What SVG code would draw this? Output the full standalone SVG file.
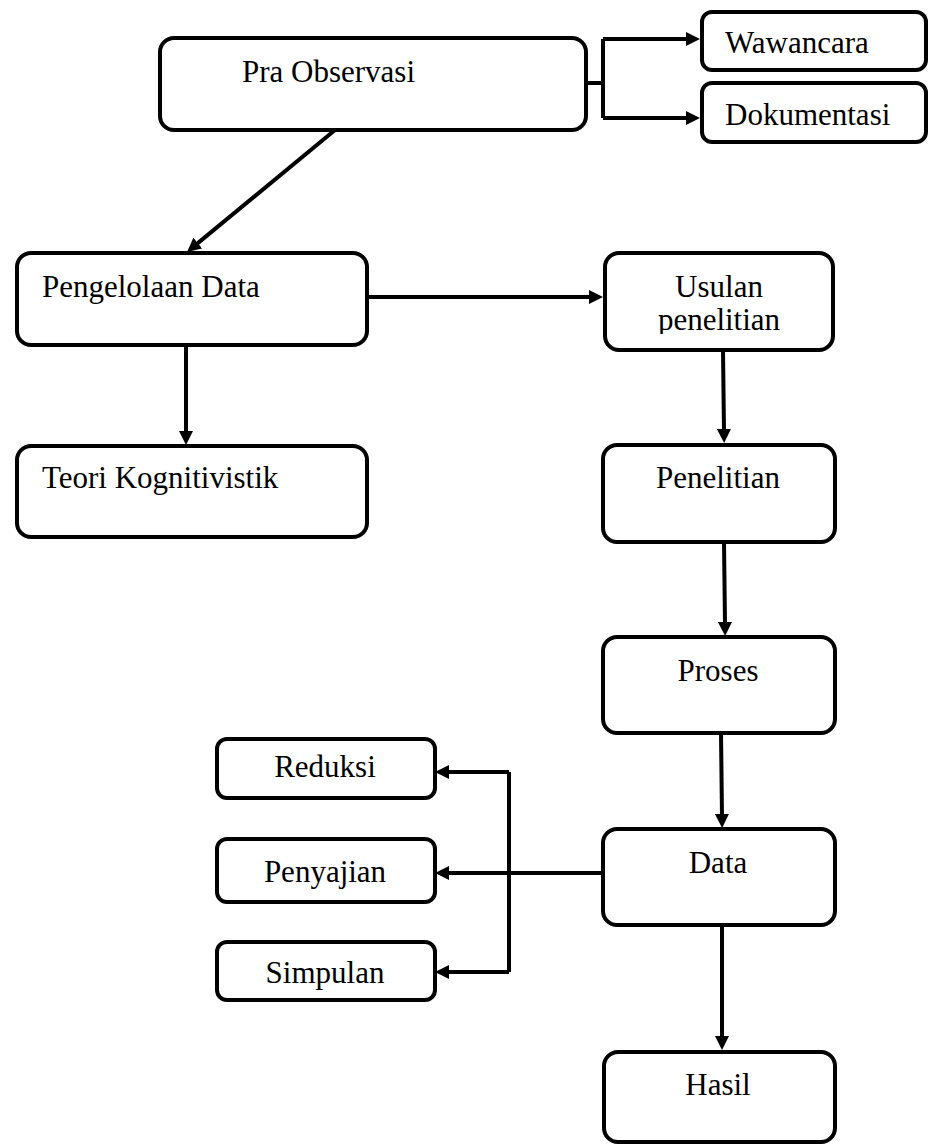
<svg xmlns="http://www.w3.org/2000/svg" width="928" height="1146" viewBox="0 0 928 1146">
<style>
.box{fill:#fff;stroke:#000;stroke-width:4}
.lbl{font-family:"Liberation Serif","Times New Roman",serif;font-size:31px;fill:#000}
.mid{text-anchor:middle}
.con{fill:none;stroke:#000;stroke-width:4}
.arr{fill:none;stroke:#000;stroke-width:4;marker-end:url(#ah)}
</style>
<defs>
<marker id="ah" viewBox="0 0 14 14" markerWidth="14" markerHeight="14" markerUnits="userSpaceOnUse" refX="2" refY="7" orient="auto">
<path d="M0,0 L14,7 L0,14 z" fill="#000"/>
</marker>
<clipPath id="clipUsulan"><rect x="605" y="253" width="228" height="81"/></clipPath>
</defs>
<rect width="928" height="1146" fill="#fff"/>
<g id="connectors">
<path class="con" d="M586,83 H603 M603,39 V118"/>
<path class="arr" d="M603,39 H688"/>
<path class="arr" d="M603,118 H688"/>
<path class="arr" d="M335,130 L196.3,244.4"/>
<path class="arr" d="M367,297 H591"/>
<path class="arr" d="M186,345 V433"/>
<path class="arr" d="M723,350 L724,431"/>
<path class="arr" d="M724,542 L725,624"/>
<path class="arr" d="M721,733 L722,816"/>
<path class="arr" d="M722,925 V1038"/>
<path class="arr" d="M603,873 H447"/>
<path class="con" d="M509,772 V972"/>
<path class="arr" d="M509,772 H447"/>
<path class="arr" d="M509,972 H447"/>
</g>
<g id="pra-observasi"><rect class="box" x="160" y="38" width="426" height="92" rx="14"/><text class="lbl" x="242" y="82">Pra Observasi</text></g>
<g id="wawancara"><rect class="box" x="702" y="12" width="224" height="58" rx="10"/><text class="lbl" x="725" y="53">Wawancara</text></g>
<g id="dokumentasi"><rect class="box" x="702" y="83" width="224" height="59" rx="10"/><text class="lbl" x="725" y="125">Dokumentasi</text></g>
<g id="pengelolaan-data"><rect class="box" x="17" y="253" width="350" height="92" rx="14"/><text class="lbl" x="42" y="297">Pengelolaan Data</text></g>
<g id="usulan-penelitian"><rect class="box" x="605" y="253" width="228" height="97" rx="14"/><g clip-path="url(#clipUsulan)"><text class="lbl mid" x="719" y="297">Usulan</text><text class="lbl mid" x="719" y="330">penelitian</text></g></g>
<g id="teori-kognitivistik"><rect class="box" x="17" y="446" width="350" height="91" rx="14"/><text class="lbl" x="42" y="488">Teori Kognitivistik</text></g>
<g id="penelitian"><rect class="box" x="603" y="445" width="232" height="97" rx="14"/><text class="lbl mid" x="718" y="488">Penelitian</text></g>
<g id="proses"><rect class="box" x="603" y="637" width="232" height="96" rx="14"/><text class="lbl mid" x="718" y="681">Proses</text></g>
<g id="data"><rect class="box" x="603" y="829" width="232" height="96" rx="14"/><text class="lbl mid" x="718" y="873">Data</text></g>
<g id="reduksi"><rect class="box" x="217" y="739" width="218" height="59" rx="10"/><text class="lbl mid" x="325" y="777">Reduksi</text></g>
<g id="penyajian"><rect class="box" x="217" y="839" width="218" height="63" rx="10"/><text class="lbl mid" x="325" y="882">Penyajian</text></g>
<g id="simpulan"><rect class="box" x="217" y="942" width="218" height="58" rx="10"/><text class="lbl mid" x="325" y="983">Simpulan</text></g>
<g id="hasil"><rect class="box" x="604" y="1052" width="231" height="90" rx="14"/><text class="lbl mid" x="718" y="1095">Hasil</text></g>
</svg>
